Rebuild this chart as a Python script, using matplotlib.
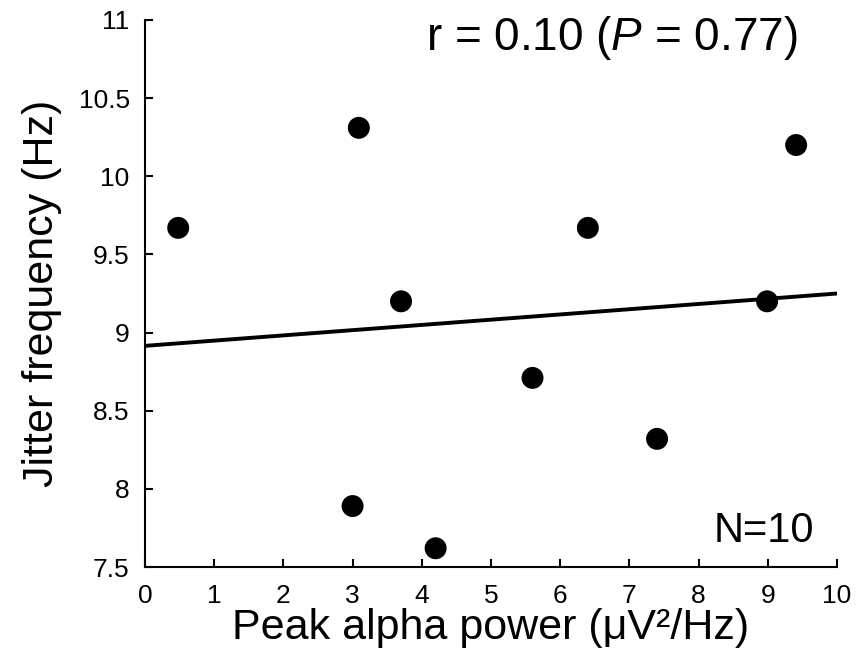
import matplotlib
matplotlib.use("Agg")
import matplotlib.pyplot as plt

# data
alpha_power = [0.48, 3.09, 3.70, 3.00, 4.20, 5.60, 6.40, 7.40, 8.99, 9.41]
jitter_freq = [9.67, 10.31, 9.20, 7.89, 7.62, 8.71, 9.67, 8.32, 9.20, 10.20]
fit_intercept = 8.915  # regression line
fit_slope = 0.0335
x_ticks = [0, 1, 2, 3, 4, 5, 6, 7, 8, 9, 10]
y_ticks = [7.5, 8, 8.5, 9, 9.5, 10, 10.5, 11]
y_ticklabels = ["7.5", "8", "8.5", "9", "9.5", "10", "10.5", "11"]

plt.rcParams["font.family"] = ["Liberation Sans", "DejaVu Sans"]
plt.rcParams["mathtext.fontset"] = "custom"
plt.rcParams["mathtext.rm"] = "Liberation Sans"
plt.rcParams["mathtext.it"] = "Liberation Sans:italic"

fig = plt.figure(figsize=(8.61, 6.6), dpi=100)
ax = fig.add_axes([0.1684, 0.1409, 0.8037, 0.8288])

ax.plot([0, 10], [fit_intercept, fit_intercept + fit_slope * 10], color="black", lw=2.8, zorder=2)
ax.scatter(alpha_power, jitter_freq, s=250, color="black", edgecolors="none", zorder=3)

ax.set_xlim(0, 10)
ax.set_ylim(7.5, 11)
ax.set_xticks(x_ticks)
ax.set_yticks(y_ticks)
ax.set_yticklabels(y_ticklabels)

for side in ["top", "right"]:
    ax.spines[side].set_visible(False)
for side in ["left", "bottom"]:
    ax.spines[side].set_linewidth(1.5)
ax.tick_params(direction="in", length=6, width=1.5, labelsize=19)
ax.tick_params(axis="x", pad=12)
ax.tick_params(axis="y", pad=11)

ax.set_xlabel("Peak alpha power (\u03bcV\u00b2/Hz)", fontsize=31, labelpad=0)
ax.set_ylabel("Jitter frequency (Hz)", fontsize=31, labelpad=12)

ax.text(0.943, 0.967, r"r = 0.10 ($\mathit{P}$ = 0.77)", transform=ax.transAxes,
        fontsize=33, ha="right", va="center")
ax.text(0.967, 0.066, "N=10", transform=ax.transAxes, fontsize=30, ha="right", va="center")

fig.savefig("out.png", dpi=100)
